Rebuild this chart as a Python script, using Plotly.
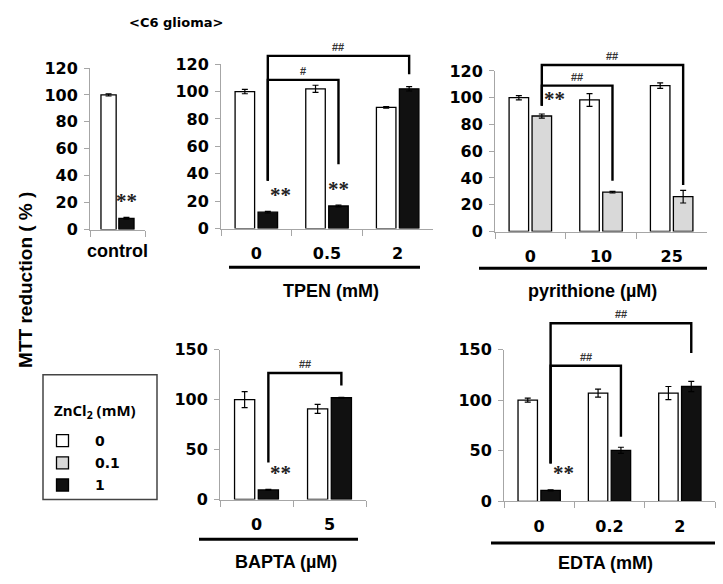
import plotly.graph_objects as go

W, H = 723, 584

# ---------------- data ----------------
control_cats = ["control"]
control_zn0 = [100.0]
control_zn0_err = [0.8]
control_zn1 = [8.4]
control_zn1_err = [0.6]

tpen_cats = ["0", "0.5", "2"]
tpen_zn0 = [100.0, 102.0, 88.5]
tpen_zn0_err = [1.6, 2.6, 0.6]
tpen_zn1 = [12.0, 16.5, 102.0]
tpen_zn1_err = [0.6, 0.6, 1.6]

pyr_cats = ["0", "10", "25"]
pyr_zn0 = [100.0, 98.3, 109.0]
pyr_zn0_err = [1.6, 4.8, 2.0]
pyr_zn01 = [86.3, 29.4, 26.0]
pyr_zn01_err = [1.5, 0.6, 4.7]

bapta_cats = ["0", "5"]
bapta_zn0 = [100.0, 90.6]
bapta_zn0_err = [8.0, 4.5]
bapta_zn1 = [9.6, 101.8]
bapta_zn1_err = [0.5, 0.5]

edta_cats = ["0", "0.2", "2"]
edta_zn0 = [100.0, 107.0, 107.0]
edta_zn0_err = [2.0, 4.0, 6.5]
edta_zn1 = [11.0, 50.5, 113.5]
edta_zn1_err = [0.5, 3.0, 5.0]

# significance brackets: (from_cat, to_cat, bracket_top, right_arm_bottom, label)
tpen_brackets = [(0, 1, 108.5, 47.0, "#"), (0, 2, 126.0, 112.7, "##")]
tpen_left_bottom = 35.0
pyr_brackets = [(0, 1, 109.0, 38.0, "##"), (0, 2, 124.4, 34.7, "##")]
pyr_left_bottom = 94.0
bapta_brackets = [(0, 1, 126.6, 114.0, "##")]
bapta_left_bottom = 37.0
edta_brackets = [(0, 1, 134.0, 64.0, "##"), (0, 2, 176.0, 146.5, "##")]
edta_left_bottom = 37.5

WHITE = "#ffffff"
GRAY = "#d9d9d9"
BLACK = "#111111"

BARGAP = 0.35
GROUPGAP = 0.15

panels = [
    dict(cats=control_cats, a=control_zn0, ae=control_zn0_err, b=control_zn1, be=control_zn1_err,
         bcolor=BLACK, ymax=120, dtick=20, xpx=(90, 145), ypx=(228, 61),
         stars=[0], brackets=[], lb=None,
         label="control", label_px=(117, 250), underline=None),
    dict(cats=tpen_cats, a=tpen_zn0, ae=tpen_zn0_err, b=tpen_zn1, be=tpen_zn1_err,
         bcolor=BLACK, ymax=120, dtick=20, xpx=(221, 433), ypx=(227, 57),
         stars=[0, 1], brackets=tpen_brackets, lb=tpen_left_bottom,
         label="TPEN (mM)", label_px=(331, 291), underline=(229, 420, 267)),
    dict(cats=pyr_cats, a=pyr_zn0, ae=pyr_zn0_err, b=pyr_zn01, be=pyr_zn01_err,
         bcolor=GRAY, ymax=120, dtick=20, xpx=(495, 707), ypx=(230, 64),
         stars=[0], brackets=pyr_brackets, lb=pyr_left_bottom,
         label="pyrithione (µM)", label_px=(592, 291), underline=(479, 707, 268)),
    dict(cats=bapta_cats, a=bapta_zn0, ae=bapta_zn0_err, b=bapta_zn1, be=bapta_zn1_err,
         bcolor=BLACK, ymax=150, dtick=50, xpx=(220, 366), ypx=(507, 352),
         stars=[0], brackets=bapta_brackets, lb=bapta_left_bottom,
         label="BAPTA (µM)", label_px=(286, 572), underline=(199, 358, 548)),
    dict(cats=edta_cats, a=edta_zn0, ae=edta_zn0_err, b=edta_zn1, be=edta_zn1_err,
         bcolor=BLACK, ymax=150, dtick=50, xpx=(504, 715), ypx=(509, 352),
         stars=[0], brackets=edta_brackets, lb=edta_left_bottom,
         label="EDTA (mM)", label_px=(605, 573), underline=(491, 715, 552)),
]

fig = go.Figure()
shapes = []
annotations = []

TICKFONT = dict(family="DejaVu Sans", size=16, color="black", weight="bold")
AXCOL = "#a6a6a6"

off = (1 - BARGAP) / 4.0


def xfrac(n, cat, series):
    return (cat + 0.5 + (off if series else -off)) / n


for k, p in enumerate(panels, start=1):
    xa = "x" if k == 1 else f"x{k}"
    ya = "y" if k == 1 else f"y{k}"
    n = len(p["cats"])
    is_gray = p["bcolor"] == GRAY
    fig.add_trace(go.Bar(
        x=p["cats"], y=p["a"], xaxis=xa, yaxis=ya, name="0",
        marker=dict(color=WHITE, line=dict(color="black", width=1.3)),
        error_y=dict(type="data", array=p["ae"], color="black", thickness=1.2, width=3),
        showlegend=(k == 1), legendrank=1, legendgroup="zn0", offsetgroup="a",
    ))
    fig.add_trace(go.Bar(
        x=p["cats"], y=p["b"], xaxis=xa, yaxis=ya, name=("0.1" if is_gray else "1"),
        marker=dict(color=p["bcolor"], line=dict(color="black", width=1.3)),
        error_y=dict(type="data", array=p["be"], color="black", thickness=1.2, width=3),
        showlegend=(k == 1 or k == 3), legendrank=(2 if is_gray else 3),
        legendgroup=("zn01" if is_gray else "zn1"), offsetgroup="b",
    ))
    xd = [p["xpx"][0] / W, p["xpx"][1] / W]
    yd = [1 - p["ypx"][0] / H, 1 - p["ypx"][1] / H]
    xkey = "xaxis" if k == 1 else f"xaxis{k}"
    ykey = "yaxis" if k == 1 else f"yaxis{k}"
    fig.update_layout(**{
        xkey: dict(domain=xd, anchor=ya, type="category", showline=True, linecolor=AXCOL, linewidth=1,
                   ticks="outside", tickson="boundaries", ticklen=6, tickcolor=AXCOL, tickwidth=1,
                   showticklabels=(k != 1), tickfont=TICKFONT, ticklabelstandoff=10,
                   showgrid=False, zeroline=False, fixedrange=True),
        ykey: dict(domain=yd, anchor=xa, range=[0, p["ymax"]], dtick=p["dtick"], showline=True,
                   linecolor=AXCOL, linewidth=1, ticks="outside", ticklen=5, tickcolor=AXCOL,
                   tickfont=TICKFONT, ticklabelstandoff=3, showgrid=False, zeroline=False,
                   fixedrange=True),
    })
    xdr = f"{xa} domain"
    ydr = f"{ya} domain"
    # stars
    for c in p["stars"]:
        annotations.append(dict(xref=xdr, yref=ydr, x=xfrac(n, c, 1), y=p["b"][c] / p["ymax"],
                                text="**", showarrow=False, yanchor="bottom", yshift=3,
                                font=dict(family="Liberation Serif", size=21, color="#222", weight="bold")))
    # brackets
    for (c0, c1, top, rb, lab) in p["brackets"]:
        xl = xfrac(n, c0, 1)
        xr = xfrac(n, c1, 1)
        yy = lambda v: v / p["ymax"]
        shapes.append(dict(type="path", xref=xdr, yref=ydr,
                           path=f"M {xl},{yy(p['lb'])} L {xl},{yy(top)} L {xr},{yy(top)} L {xr},{yy(rb)}",
                           line=dict(color="black", width=2.4)))
        annotations.append(dict(xref=xdr, yref=ydr, x=(xl + xr) / 2, y=yy(top), text=lab,
                                showarrow=False, yanchor="bottom", yshift=1,
                                font=dict(family="Liberation Sans", size=11, color="#333", weight="bold")))
    # group label
    annotations.append(dict(xref="paper", yref="paper", x=p["label_px"][0] / W, y=1 - p["label_px"][1] / H,
                            text=p["label"], showarrow=False, xanchor="center", yanchor="middle",
                            font=dict(family="Liberation Sans", size=18, color="black", weight="bold")))
    if p["underline"]:
        x0, x1, yl = p["underline"]
        shapes.append(dict(type="line", xref="paper", yref="paper", x0=x0 / W, x1=x1 / W,
                           y0=1 - yl / H, y1=1 - yl / H, line=dict(color="black", width=3)))

# titles
annotations.append(dict(xref="paper", yref="paper", x=176 / W, y=1 - 14 / H, text="<C6 glioma>",
                        showarrow=False, xanchor="center", yanchor="middle",
                        font=dict(family="DejaVu Sans", size=13, color="black", weight="bold")))
annotations.append(dict(xref="paper", yref="paper", x=26 / W, y=1 - 280 / H, text="MTT reduction ( % )",
                        showarrow=False, textangle=-90, xanchor="center", yanchor="middle",
                        font=dict(family="Liberation Sans", size=19, color="black", weight="bold")))
annotations.append(dict(xref="paper", yref="paper", x=95 / W, y=1 - 416 / H, text="ZnCl<sub>2</sub> (mM)",
                        showarrow=False, xanchor="center", yanchor="middle",
                        font=dict(family="Open Sans", size=15, color="black", weight="bold")))

# legend box
shapes.append(dict(type="rect", xref="paper", yref="paper", x0=43 / W, x1=157 / W,
                   y0=1 - 378 / H, y1=1 - 507 / H, line=dict(color="#444", width=1.5)))

fig.update_layout(
    width=W, height=H, margin=dict(l=0, r=0, t=0, b=0),
    paper_bgcolor="white", plot_bgcolor="white",
    barmode="group", bargap=BARGAP, bargroupgap=GROUPGAP,
    shapes=shapes, annotations=annotations,
    legend=dict(x=30 / W, y=1 - 430 / H, xanchor="left", yanchor="top",
                font=dict(family="DejaVu Sans", size=14, color="black", weight="bold"),
                bgcolor="rgba(0,0,0,0)", borderwidth=0, itemwidth=55,
                traceorder="grouped", tracegroupgap=1),
)

fig.write_html("out.html", config={"displayModeBar": False},
               post_script="document.body.style.margin='0';")
